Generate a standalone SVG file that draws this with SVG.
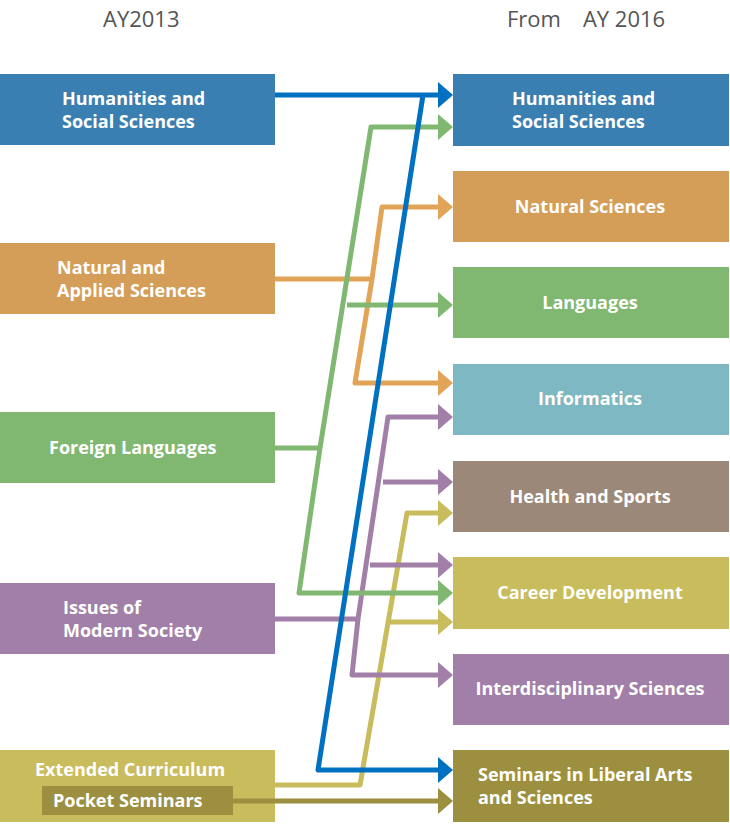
<svg xmlns="http://www.w3.org/2000/svg" width="730" height="830" viewBox="0 0 730 830">
<style>
.t{font-family:"Open Sans","Liberation Sans",sans-serif;font-weight:bold;font-size:18px;fill:#fff}
.c{text-anchor:middle}
.h{font-family:"Open Sans","Liberation Sans",sans-serif;font-size:22px;fill:#555}
.l{fill:none;stroke-width:5;stroke-linejoin:round}
</style>
<rect width="730" height="830" fill="#fff"/>
<text class="h" x="103" y="27">AY2013</text>
<text class="h" x="507" y="27">From　AY 2016</text>
<g id="l-hss"><rect x="0" y="74" width="275" height="71" fill="#3a7fb2"/><text class="t" x="62" y="105">Humanities and</text><text class="t" x="62" y="128">Social Sciences</text></g>
<g id="l-nas"><rect x="0" y="243" width="275" height="71" fill="#d49d58"/><text class="t" x="57" y="274">Natural and</text><text class="t" x="57" y="297">Applied Sciences</text></g>
<g id="l-fl"><rect x="0" y="412" width="275" height="71" fill="#80b872"/><text class="t" x="49" y="454">Foreign Languages</text></g>
<g id="l-ims"><rect x="0" y="583" width="275" height="71" fill="#a27fa8"/><text class="t" x="63" y="614">Issues of</text><text class="t" x="63" y="637">Modern Society</text></g>
<g id="l-ext"><rect x="0" y="750" width="275" height="72" fill="#c9bc5c"/><text class="t" x="35" y="776">Extended Curriculum</text><rect x="42" y="786" width="191" height="29" fill="#9c9040"/><text class="t" x="53" y="807">Pocket Seminars</text></g>
<g id="r-hss"><rect x="453" y="74" width="276" height="72" fill="#3a7fb2"/><text class="t" x="512" y="105">Humanities and</text><text class="t" x="512" y="128">Social Sciences</text></g>
<g id="r-ns"><rect x="453" y="171" width="276" height="71" fill="#d49d58"/><text class="t c" x="590" y="213">Natural Sciences</text></g>
<g id="r-lang"><rect x="453" y="267" width="276" height="71" fill="#80b872"/><text class="t c" x="590" y="309">Languages</text></g>
<g id="r-inf"><rect x="453" y="364" width="276" height="71" fill="#7eb8c2"/><text class="t c" x="590" y="405">Informatics</text></g>
<g id="r-hs"><rect x="453" y="461" width="276" height="71" fill="#9b8878"/><text class="t c" x="590" y="503">Health and Sports</text></g>
<g id="r-cd"><rect x="453" y="557" width="276" height="72" fill="#c9bc5c"/><text class="t c" x="590" y="599">Career Development</text></g>
<g id="r-is"><rect x="453" y="654" width="276" height="71" fill="#a27fa8"/><text class="t c" x="590" y="695">Interdisciplinary Sciences</text></g>
<g id="r-sem"><rect x="453" y="750" width="276" height="72" fill="#9c9040"/><text class="t" x="478" y="781">Seminars in Liberal Arts</text><text class="t" x="478" y="804">and Sciences</text></g>
<g id="connectors">
<g stroke="#9c9040" fill="#9c9040"><path class="l" d="M233 801H440"/><path d="M453 801l-15-13v26z" stroke="none"/></g>
<g stroke="#c9bc5c" fill="#c9bc5c"><path class="l" d="M275 785H360L407 513H440M390 622H440"/><path d="M453 513l-15-13v26zM453 622l-15-13v26z" stroke="none"/></g>
<g stroke="#a27fa8" fill="#a27fa8"><path class="l" d="M275 619H358L388 417H440M358 619L352 675H440M383 482H440M370 565H440"/><path d="M453 417l-15-13v26zM453 482l-15-13v26zM453 565l-15-13v26zM453 675l-15-13v26z" stroke="none"/></g>
<g stroke="#e2a456" fill="#e2a456"><path class="l" d="M275 279H372L382 207H440M372 279L355 383H440"/><path d="M453 207l-15-13v26zM453 383l-15-13v26z" stroke="none"/></g>
<g stroke="#80b872" fill="#80b872"><path class="l" d="M275 448H320L371 127H440M320 448L299 593H440M347 305H440"/><path d="M453 127l-15-13v26zM453 305l-15-13v26zM453 593l-15-13v26z" stroke="none"/></g>
<g stroke="#0070c0" fill="#0070c0"><path class="l" d="M275 95H440M423 95L318 770H440"/><path d="M453 95l-15-13v26zM453 770l-15-13v26z" stroke="none"/></g>
</g>
</svg>
